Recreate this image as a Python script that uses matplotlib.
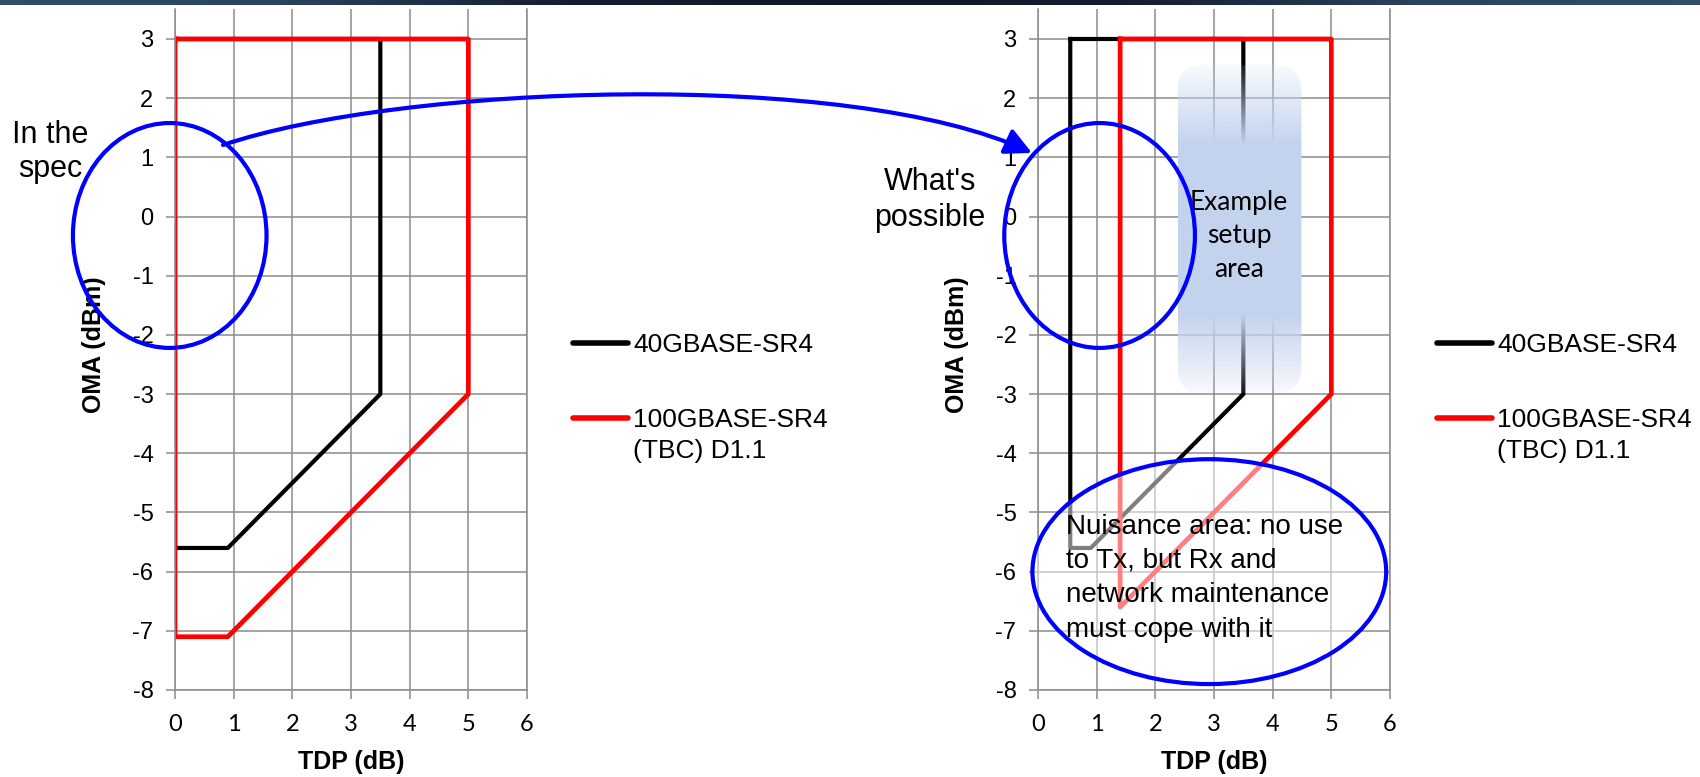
import numpy as np
import matplotlib.pyplot as plt
from matplotlib.patches import Ellipse, FancyBboxPatch, FancyArrowPatch
from matplotlib.path import Path
from matplotlib.lines import Line2D

plt.rcParams['font.family'] = 'Liberation Sans'
plt.rcParams['axes.unicode_minus'] = False

W, H = 1700, 777
GRID = '#8c8c8c'

# --- chart data: TDP (dB) vs OMA (dBm) outlines ---
series_names = ['40GBASE-SR4', '100GBASE-SR4\n(TBC) D1.1']
series_colors = ['black', 'red']

# left panel: "in the spec"
spec_tdp_40 = [0, 3.5, 3.5, 0.9, 0, 0]
spec_oma_40 = [3, 3, -3, -5.6, -5.6, 3]
spec_tdp_100 = [0, 5, 5, 0.9, 0, 0]
spec_oma_100 = [3, 3, -3, -7.1, -7.1, 3]

# right panel: "what's possible"
poss_tdp_40 = [0.55, 3.5, 3.5, 0.9, 0.55, 0.55]
poss_oma_40 = [3, 3, -3, -5.6, -5.6, 3]
poss_tdp_100 = [1.4, 5, 5, 1.4, 1.4]
poss_oma_100 = [3, 3, -3, -6.6, 3]

x_ticks = [0, 1, 2, 3, 4, 5, 6]
y_ticks = [-8, -7, -6, -5, -4, -3, -2, -1, 0, 1, 2, 3]


def fx(x):
    return x / W


def fy(y):
    return 1 - y / H


def setup_axes(ax):
    ax.set_xlim(0, 6)
    ax.set_ylim(-8, 3.5)
    ax.set_xticks(x_ticks)
    ax.set_yticks(y_ticks)
    ax.grid(True, color=GRID, linewidth=1.1)
    ax.set_axisbelow(True)
    for s in ['left', 'bottom', 'right']:
        ax.spines[s].set_color(GRID)
        ax.spines[s].set_linewidth(1.1)
    ax.spines['top'].set_visible(False)
    ax.tick_params(axis='both', color=GRID, width=1.1, length=6.5)
    ax.tick_params(axis='y', labelsize=17, pad=9)
    ax.tick_params(axis='x', labelsize=17, pad=11)
    for lab in ax.get_xticklabels():
        lab.set_fontfamily('Lato')
    ax.set_xlabel('TDP (dB)', fontsize=18, fontweight='bold')
    ax.set_ylabel('OMA (dBm)', fontsize=18, fontweight='bold')
    ax.xaxis.set_label_coords(0.5, -0.106)
    ax.xaxis.label.set_va('center')
    ax.yaxis.set_label_coords(-0.23, 0.508)
    ax.yaxis.label.set_va('center')
    ax.yaxis.label.set_ha('center')


def draw_legend(x0):
    # handle lines + labels, placed like the Excel legend to the right of each plot
    ys = [343, 418]
    for name, color, y in zip(series_names, series_colors, ys):
        fig.add_artist(Line2D([fx(x0), fx(x0 + 55)], [fy(y), fy(y)], color=color,
                              linewidth=4, solid_capstyle='round'))
        lines = name.split('\n')
        for i, t in enumerate(lines):
            fig.text(fx(x0 + 60), fy(y + 2 + 31 * i), t, fontsize=19, ha='left', va='center')


fig = plt.figure(figsize=(17, 7.77), dpi=100)

ax_l = fig.add_axes([fx(175), fy(690), 352 / W, 680.6 / H])
ax_r = fig.add_axes([fx(1038), fy(690), 352 / W, 680.6 / H])

for ax, t40, o40, t100, o100 in [(ax_l, spec_tdp_40, spec_oma_40, spec_tdp_100, spec_oma_100),
                                 (ax_r, poss_tdp_40, poss_oma_40, poss_tdp_100, poss_oma_100)]:
    ax.plot(t40, o40, color=series_colors[0], linewidth=3, zorder=2)
    ax.plot(t100, o100, color=series_colors[1], linewidth=3.4, zorder=2.1)
    setup_axes(ax)

draw_legend(573)
draw_legend(1437)

# left panel annotation
ax_l.add_patch(Ellipse((-0.09, -0.32), 3.3, 3.8, fill=False, edgecolor='blue',
                       linewidth=3, clip_on=False, zorder=7))
fig.text(fx(50), fy(177), 'In the\nspec', fontsize=22, ha='center', va='baseline',
         linespacing=1.17)

# right panel annotations
ax_r.add_patch(Ellipse((1.05, -0.32), 3.25, 3.8, fill=False, edgecolor='blue',
                       linewidth=3, clip_on=False, zorder=7))
fig.text(fx(930), fy(226), "What's\npossible", fontsize=22, ha='center', va='baseline',
         linespacing=1.24)

# example setup area: rounded box with faded top and bottom
bx0, bx1, by0, by1 = 2.38, 4.49, -2.98, 2.56
box = FancyBboxPatch((bx0, by0), bx1 - bx0, by1 - by0,
                     boxstyle='round,pad=0,rounding_size=0.42',
                     facecolor='none', edgecolor='none', transform=ax_r.transData)
ax_r.add_patch(box)
yy = np.linspace(0, 1, 300)
span = by1 - by0
edge = np.minimum(yy, 1 - yy) * span
alpha = np.clip(0.12 + edge / 1.5, 0, 1)
grad = np.zeros((300, 2, 4))
grad[..., 0] = 195 / 255
grad[..., 1] = 211 / 255
grad[..., 2] = 238 / 255
grad[..., 3] = alpha[:, None]
im = ax_r.imshow(grad, extent=[bx0, bx1, by0, by1], origin='lower', aspect='auto',
                 interpolation='bilinear', zorder=3)
im.set_clip_path(box)
ax_r.set_xlim(0, 6)
ax_r.set_ylim(-8, 3.5)
ax_r.text(3.43, -1.02, 'Example\nsetup\narea', fontsize=19, family='Lato',
          ha='center', va='baseline', linespacing=1.43, zorder=4)

# nuisance area: half-transparent white ellipse
ax_r.add_patch(Ellipse((2.92, -6.0), 6.03, 3.8, facecolor=(1, 1, 1, 0.5),
                       edgecolor='blue', linewidth=3, clip_on=False, zorder=5))
ax_r.text(0.47, -7.1, 'Nuisance area: no use\nto Tx, but Rx and\nnetwork maintenance\nmust cope with it',
          fontsize=20, ha='left', va='baseline', linespacing=1.42, zorder=6)

# curved arrow from "in the spec" to "what's possible"
verts = [(fx(223), fy(145)), (fx(400), fy(85)), (fx(850), fy(68)), (fx(1032), fy(153))]
codes = [Path.MOVETO, Path.CURVE4, Path.CURVE4, Path.CURVE4]
arrow = FancyArrowPatch(path=Path(verts, codes), arrowstyle='-|>,head_length=16,head_width=8',
                        mutation_scale=1, color='blue', linewidth=3,
                        transform=fig.transFigure)
fig.add_artist(arrow)

# slide header strip at the very top
band = fig.add_axes([0, fy(5), 1, 5 / H])
cols = np.array([[0x33, 0x4d, 0x6a], [0x2a, 0x42, 0x5e], [0x14, 0x1e, 0x30],
                 [0x10, 0x18, 0x28], [0x14, 0x1e, 0x30], [0x2a, 0x42, 0x5e],
                 [0x33, 0x4d, 0x6a]]) / 255
xs = np.linspace(0, 1, 400)
pos = np.linspace(0, 1, len(cols))
strip = np.stack([np.interp(xs, pos, cols[:, k]) for k in range(3)], axis=-1)[None, :, :]
band.imshow(strip, aspect='auto', extent=[0, 1, 0, 1])
band.set_axis_off()

fig.savefig('out.png', dpi=100)
